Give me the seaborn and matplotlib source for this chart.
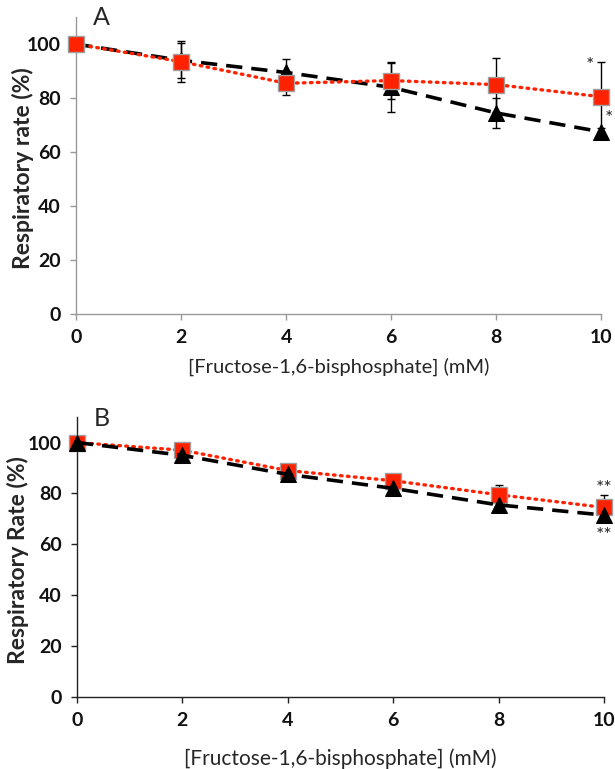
import matplotlib
matplotlib.use("Agg")
import matplotlib.pyplot as plt
import seaborn as sns
import pandas as pd
import numpy as np

# ---- data ----
conc = [0, 2, 4, 6, 8, 10]
xticks = [0, 2, 4, 6, 8, 10]
yticks = [0, 20, 40, 60, 80, 100]

a_black = [100, 94, 89.5, 84, 74.5, 67.5]
a_black_err = [0, 6.5, 5, 9, 5.5, 1.5]
a_red = [100, 93.5, 85.5, 86.5, 85, 80.5]
a_red_err = [0, 7.5, 4.5, 7, 10, 13]

b_black = [100, 95, 87.5, 82, 75.5, 71.5]
b_black_err = [0, 1, 1, 1, 2.5, 1.5]
b_red = [100, 97, 89, 85, 79.5, 74.5]
b_red_err = [0, 1, 1, 1, 4, 5]

a_stars = [("*", 9.78, 92), ("*", 10.15, 72.5)]
b_stars = [("**", 10.0, 82), ("**", 10.0, 63.5)]

sns.set_style("ticks")
FONT = ['Lato', 'DejaVu Sans']
plt.rcParams['font.family'] = FONT

fig = plt.figure(figsize=(6.15, 7.69), dpi=100)
axA = fig.add_axes([0.1236, 0.5917, 0.854, 0.386])
axB = fig.add_axes([0.125, 0.0936, 0.857, 0.364])


def panel(ax, black, black_err, red, red_err, red_on_top, spine_col):
    df = pd.DataFrame({"x": conc * 2,
                       "y": black + red,
                       "s": ["black"] * len(conc) + ["red"] * len(conc)})
    zb, zr = (3, 4) if red_on_top else (4, 3)
    sns.lineplot(data=df[df.s == "black"], x="x", y="y", ax=ax, color="black",
                 lw=2.6, linestyle=(0, (4.5, 2.5)), marker="^", markersize=11.5,
                 markeredgecolor="black", zorder=zb, legend=False)
    sns.lineplot(data=df[df.s == "red"], x="x", y="y", ax=ax, color="#ff2200",
                 lw=2.4, linestyle=(0, (0.5, 1.6)), dash_capstyle="round",
                 marker="s", markersize=11, markeredgecolor="#a0a0a0",
                 markeredgewidth=1.0, zorder=zr, legend=False)
    ax.errorbar(conc, black, yerr=black_err, fmt="none", ecolor="black",
                elinewidth=1, capsize=3, capthick=1, zorder=2)
    ax.errorbar(conc, red, yerr=red_err, fmt="none", ecolor="black",
                elinewidth=1, capsize=3, capthick=1, zorder=2)
    ax.set_xlim(0, 10)
    ax.set_ylim(0, 110)
    ax.set_xticks(xticks)
    ax.set_yticks(yticks)
    ax.set_xticklabels([str(t) for t in xticks], fontsize=14, fontweight="bold")
    ax.set_yticklabels([str(t) for t in yticks], fontsize=14, fontweight="bold")
    for s in ["top", "right"]:
        ax.spines[s].set_visible(False)
    for s in ["left", "bottom"]:
        ax.spines[s].set_color(spine_col)
        ax.spines[s].set_linewidth(1.0)
    ax.tick_params(axis="both", direction="out", length=4, width=1,
                   color=spine_col, pad=7, labelcolor="#111111")
    ax.margins(0)


panel(axA, a_black, a_black_err, a_red, a_red_err, True, "#999999")
panel(axB, b_black, b_black_err, b_red, b_red_err, False, "#222222")

for ax in (axA, axB):
    for ln in ax.lines:
        ln.set_clip_on(False)
    for c in ax.collections:
        c.set_clip_on(False)

axA.set_xlabel("[Fructose-1,6-bisphosphate] (mM)", fontsize=14.5)
axA.xaxis.set_label_coords(0.5, -0.178)
axA.xaxis.label.set_verticalalignment("center")
axA.set_ylabel("Respiratory rate (%)", fontsize=16.5, fontweight="bold")
axA.yaxis.set_label_coords(-0.101, 0.49)
axA.yaxis.label.set_verticalalignment("center")

axB.set_xlabel("[Fructose-1,6-bisphosphate] (mM)", fontsize=15)
axB.xaxis.set_label_coords(0.5, -0.222)
axB.xaxis.label.set_verticalalignment("center")
axB.set_ylabel("Respiratory Rate (%)", fontsize=16.5, fontweight="bold")
axB.yaxis.set_label_coords(-0.112, 0.49)
axB.yaxis.label.set_verticalalignment("center")

axA.text(0.48, 114, "A", fontsize=18, va="top", ha="center", clip_on=False)
axB.text(0.48, 114, "B", fontsize=18, va="top", ha="center", clip_on=False)

for s, x, y in a_stars:
    axA.text(x, y, s, fontsize=14, ha="center", va="center", clip_on=False)
for s, x, y in b_stars:
    axB.text(x, y, s, fontsize=14, ha="center", va="center", clip_on=False)

fig.savefig("out.png", dpi=100)
